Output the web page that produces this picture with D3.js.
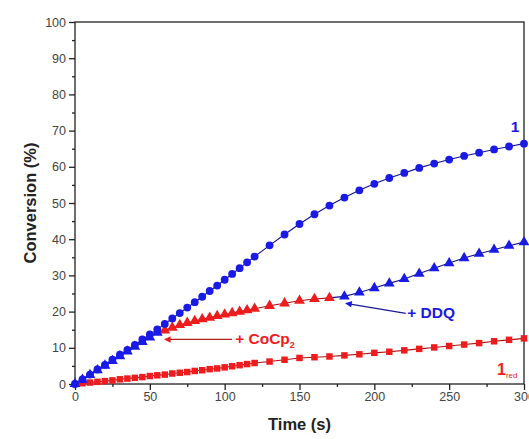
<!DOCTYPE html>
<html><head><meta charset="utf-8">
<script src="https://cdn.jsdelivr.net/npm/d3@7/dist/d3.min.js"></script>
<style>body{margin:0;background:#fff}svg{display:block}</style>
</head><body><svg id="c" width="529" height="439"></svg>
<script>
// ---- data ----
const timeMain = [0,5,10,15,20,25,30,35,40,45,50,55,60,65,70,75,80,85,90,95,100,105,110,115,120,130,140,150,160,170,180,190,200,210,220,230,240,250,260,270,280,290,300];
const conv1 = [0,1.3,2.6,4.0,5.3,6.7,8.1,9.4,10.8,12.3,13.7,15.1,16.6,18.1,19.6,21.1,22.6,24.1,25.7,27.2,28.8,30.4,32.0,33.6,35.2,38.3,41.3,44.2,46.9,49.3,51.5,53.5,55.3,56.9,58.3,59.7,60.9,62.0,63.0,63.9,64.8,65.6,66.4];
const conv1red = [0,0.2,0.4,0.6,0.8,1.0,1.3,1.5,1.7,1.9,2.2,2.4,2.6,2.9,3.1,3.3,3.6,3.8,4.1,4.3,4.6,4.9,5.2,5.5,5.8,6.2,6.7,7.2,7.4,7.6,7.9,8.2,8.6,8.9,9.3,9.7,10.1,10.5,10.9,11.3,11.8,12.2,12.6];
const timeTriStart = [0,5,10,15,20,25,30,35,40,45,50,55];
const convTriStart = [0,1.2,2.5,3.8,5.1,6.4,7.7,9.0,10.3,11.6,12.9,14.2];
const timeTriCoCp = [60,65,70,75,80,85,90,95,100,105,110,115,120,130,140,150,160,170];
const convTriCoCp = [14.8,15.6,16.3,16.9,17.4,17.9,18.3,18.8,19.2,19.6,20.0,20.4,20.8,21.6,22.3,23.0,23.5,23.8];
const timeTriDDQ = [180,190,200,210,220,230,240,250,260,270,280,290,300];
const convTriDDQ = [24.2,25.3,26.5,27.8,29.0,30.5,32.0,33.4,34.8,36.0,37.1,38.2,39.2];
const xTicks = [0,50,100,150,200,250,300];
const yTicks = [0,10,20,30,40,50,60,70,80,90,100];

const BLUE = "#1a1ae6", RED = "#ee1c1c";
const FONT = "'Liberation Sans', Arial, sans-serif";

const svg = d3.select("#c");
const x = d3.scaleLinear().domain([0,300]).range([75,524]);
const y = d3.scaleLinear().domain([0,100]).range([384,22]);

// frame
svg.append("rect").attr("x",x(0)).attr("y",y(100)).attr("width",x(300)-x(0)).attr("height",y(0)-y(100))
  .attr("fill","none").attr("stroke","#222").attr("stroke-width",1.3);

// axes
const xAxis = svg.append("g").attr("transform",`translate(0,${y(0)})`)
  .call(d3.axisBottom(x).tickValues(xTicks).tickSize(6).tickPadding(2).tickFormat(d3.format("d")));
const xMinor = svg.append("g").attr("transform",`translate(0,${y(0)})`)
  .call(d3.axisBottom(x).tickValues(d3.range(25,300,50)).tickSize(3).tickFormat(""));
const yAxis = svg.append("g").attr("transform",`translate(${x(0)},0)`)
  .call(d3.axisLeft(y).tickValues(yTicks).tickSize(6).tickPadding(3).tickFormat(d3.format("d")));
const yMinor = svg.append("g").attr("transform",`translate(${x(0)},0)`)
  .call(d3.axisLeft(y).tickValues(d3.range(5,100,10)).tickSize(3).tickFormat(""));
[xAxis,xMinor,yAxis,yMinor].forEach(g=>{
  g.select(".domain").remove();
  g.selectAll("line").attr("stroke","#222").attr("stroke-width",1.3);
  g.selectAll("text").attr("font-family",FONT).attr("font-size",12.5).attr("fill","#444");
});

svg.append("text").attr("x",(x(0)+x(300))/2).attr("y",430).attr("text-anchor","middle")
  .attr("font-family",FONT).attr("font-size",16.5).attr("font-weight","bold").attr("fill","#222").text("Time (s)");
svg.append("text").attr("transform",`translate(36,${y(50)}) rotate(-90)`).attr("text-anchor","middle")
  .attr("font-family",FONT).attr("font-size",16.5).attr("font-weight","bold").attr("fill","#222").text("Conversion (%)");

const line = d3.line().x(d=>x(d[0])).y(d=>y(d[1]));
const zip = (t,v)=>t.map((d,i)=>[d,v[i]]);
const s1 = zip(timeMain,conv1), sRed = zip(timeMain,conv1red);
const tA = zip(timeTriStart,convTriStart), tB = zip(timeTriCoCp,convTriCoCp), tC = zip(timeTriDDQ,convTriDDQ);

function drawLine(data,color){svg.append("path").datum(data).attr("d",line).attr("fill","none").attr("stroke",color).attr("stroke-width",1.1);}
drawLine(sRed,"#b01010");
drawLine([tA[tA.length-1]].concat(tB),"#b01010");
drawLine(tA,"#101090");
drawLine([tB[tB.length-1]].concat(tC),"#101090");
drawLine(s1,"#101090");

function drawSym(data,type,size,color){
  svg.append("g").selectAll("path").data(data).join("path")
    .attr("transform",d=>`translate(${x(d[0])},${y(d[1])})`)
    .attr("d",d3.symbol().type(type).size(size)).attr("fill",color);
}
drawSym(sRed,d3.symbolSquare,42,RED);
drawSym(tB,d3.symbolTriangle,50,RED);
drawSym(tA,d3.symbolTriangle,50,BLUE);
drawSym(tC,d3.symbolTriangle,50,BLUE);
drawSym(s1,d3.symbolCircle,48,BLUE);

// annotations
svg.append("defs").html(`
<marker id="ar" viewBox="0 0 10 10" refX="9" refY="5" markerWidth="7" markerHeight="5" orient="auto"><path d="M0,0L10,5L0,10z" fill="${RED}"/></marker>
<marker id="ab" viewBox="0 0 10 10" refX="9" refY="5" markerWidth="7" markerHeight="5" orient="auto"><path d="M0,0L10,5L0,10z" fill="${BLUE}"/></marker>`);
svg.append("line").attr("x1",x(105)).attr("y1",y(12.3)).attr("x2",x(60)).attr("y2",y(12.3))
  .attr("stroke","#b02020").attr("stroke-width",1.3).attr("marker-end","url(#ar)");
svg.append("line").attr("x1",x(221)).attr("y1",y(19.5)).attr("x2",x(181)).attr("y2",y(22.3))
  .attr("stroke","#1a1a90").attr("stroke-width",1.3).attr("marker-end","url(#ab)");

const t1 = svg.append("text").attr("font-family",FONT).attr("font-weight","bold").attr("font-size",15.5).attr("fill",RED)
  .attr("x",x(107)).attr("y",y(12.3)+5);
t1.append("tspan").text("+ CoCp");
t1.append("tspan").attr("font-size",9).attr("dy",4).text("2");
svg.append("text").attr("font-family",FONT).attr("font-weight","bold").attr("font-size",15.5).attr("fill",BLUE)
  .attr("x",x(222)).attr("y",y(19.5)+5).text("+ DDQ");
svg.append("text").attr("font-family",FONT).attr("font-weight","bold").attr("font-size",15.5).attr("fill",BLUE)
  .attr("x",x(294)).attr("y",y(69.5)).attr("text-anchor","middle").text("1");
const t2 = svg.append("text").attr("font-family",FONT).attr("font-weight","bold").attr("font-size",16).attr("fill",RED)
  .attr("x",x(282)).attr("y",y(2.4));
t2.append("tspan").text("1");
t2.append("tspan").attr("font-size",8).attr("font-weight","normal").attr("dy",3).text("red");
</script></body></html>
